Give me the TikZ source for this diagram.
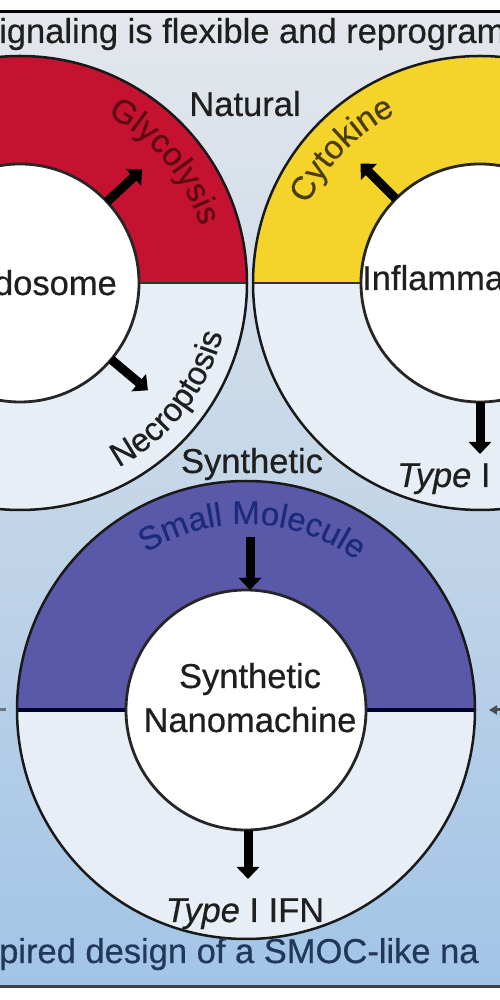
\documentclass[tikz,border=0pt]{standalone}
\usepackage{fontspec}
\setmainfont{Liberation Sans}[FakeBold=0.5]
\usetikzlibrary{arrows.meta,decorations.text}
\definecolor{redc}{HTML}{C41230}
\definecolor{yelc}{HTML}{F4D42A}
\definecolor{purc}{HTML}{5A58A8}
\definecolor{lowc}{HTML}{E8EEF5}
\definecolor{bgtop}{HTML}{E4E7EC}
\definecolor{bgmid}{HTML}{C4D6E8}
\definecolor{bgbot}{HTML}{A2C4E6}
\definecolor{glyc}{HTML}{5E0A12}
\definecolor{cytc}{HTML}{4A3C05}
\definecolor{smc}{HTML}{1C2A7E}
\definecolor{footc}{HTML}{22385A}
\newcommand\curvefont{\fontsize{33}{38}\selectfont}
\begin{document}
\begin{tikzpicture}[x=1pt,y=1pt,
  big/.style={font=\fontsize{34.5}{41}\selectfont, inner sep=0pt, text=black!88},
  arr/.style={line width=9pt, -{Triangle[width=22pt,length=12pt]}, black},
  smallarr/.style={line width=3pt, -{Triangle[width=9pt,length=8pt]}, black!70},
  outer/.style={line width=2.5pt, draw=black!90},
  innerc/.style={line width=2.8pt, draw=black!85, fill=white},
  divider/.style={line width=2.5pt, draw=black!80},
  curved/.style={decorate, decoration={text along path, text align=center}}]
\useasboundingbox (0,0) rectangle (500,1000);
\clip (0,0) rectangle (500,1000);
\fill[white] (0,0) rectangle (500,1000);
\shade[top color=bgtop, bottom color=bgbot, middle color=bgmid] (-5,13) rectangle (505,988);
\draw[line width=3pt, black] (-5,988) -- (505,988);
\draw[line width=3pt, black!75] (-5,13) -- (505,13);

% centres
\coordinate (L) at (20,717);
\coordinate (R) at (480,717);
\coordinate (B) at (246,290);

% left circle
\fill[lowc] (L) circle[radius=227];
\fill[redc] (L) ++(227,0) arc[start angle=0, end angle=180, radius=227] -- cycle;
\draw[divider] (L) ++(-227,0) -- ++(454,0);
\draw[outer] (L) circle[radius=227];
\draw[innerc] (L) circle[radius=119];

% right circle
\fill[lowc] (R) circle[radius=227];
\fill[yelc] (R) ++(227,0) arc[start angle=0, end angle=180, radius=227] -- cycle;
\draw[divider] (R) ++(-227,0) -- ++(454,0);
\draw[outer] (R) circle[radius=227];
\draw[innerc] (R) circle[radius=119];

% bottom circle
\fill[lowc] (B) circle[radius=229];
\fill[purc] (B) ++(229,0) arc[start angle=0, end angle=180, radius=229] -- cycle;
\draw[line width=3.5pt, draw=black!70!blue!60!black] (B) ++(-229,0) -- ++(458,0);
\draw[outer] (B) circle[radius=229];
\draw[innerc] (B) circle[radius=120];

% curved labels
\path[curved, decoration={text color=glyc, text={|\curvefont|Glycolysis}}]
  (L) ++(80:189) arc[start angle=80, end angle=0, radius=189];
\path[curved, decoration={text color=black!88, text={|\curvefont|Necroptosis}}]
  (L) ++(-78:209) arc[start angle=-78, end angle=2, radius=209];
\path[curved, decoration={text color=cytc, text={|\curvefont|Cytokine}}]
  (R) ++(176:189) arc[start angle=176, end angle=96, radius=189];
\path[curved, decoration={text color=smc, text={|\curvefont|Small Molecule}}]
  (B) ++(128:186) arc[start angle=128, end angle=48, radius=186];

% arrows
\path (L) ++(43:119) coordinate (g1) ++(43:48) coordinate (g2);
\path (L) ++(-40:119) coordinate (n1) ++(-40:48) coordinate (n2);
\path (R) ++(135:119) coordinate (c1) ++(135:50) coordinate (c2);
\path (R) ++(270:119) coordinate (t1) ++(270:52) coordinate (t2);
\coordinate (s1) at (250,463);
\coordinate (s2) at (250,410);
\coordinate (i1) at (248,170);
\coordinate (i2) at (248,121);
\draw[arr] (g1) -- (g2);
\draw[arr] (n1) -- (n2);
\draw[arr] (c1) -- (c2);
\draw[arr] (t1) -- (t2);
\draw[arr] (s1) -- (s2);
\draw[arr] (i1) -- (i2);

% edge arrows
\coordinate (e1) at (-3,290);
\coordinate (e2) at (6,290);
\coordinate (e3) at (508,290);
\coordinate (e4) at (489,290);
\draw[line width=3pt, black!55] (e1) -- (e2);
\draw[smallarr] (e3) -- (e4);

% texts
\node[big, anchor=base west] (title) at (-1,957) {ignaling is flexible and reprogram};
\node[big, anchor=base] (natural) at (245,884) {Natural};
\node[big, anchor=base east] (endo) at (117,705) {dosome};
\node[big, anchor=base west] (infl) at (362,710) {Inflamma};
\node[big, anchor=base west] (typeR) at (397,513) {\itshape Type\upshape\ I};
\node[big, anchor=base] (synth) at (252,527) {Synthetic};
\node[big, anchor=base] (nano1) at (250,312) {Synthetic};
\node[big, anchor=base] (nano2) at (250,268) {Nanomachine};
\node[big, anchor=base] (typeB) at (245,78) {\itshape Type\upshape\ I IFN};
\node[big, anchor=base west, text=footc] (foot) at (-1,37) {pired design of a SMOC-like na};
\end{tikzpicture}
\end{document}
